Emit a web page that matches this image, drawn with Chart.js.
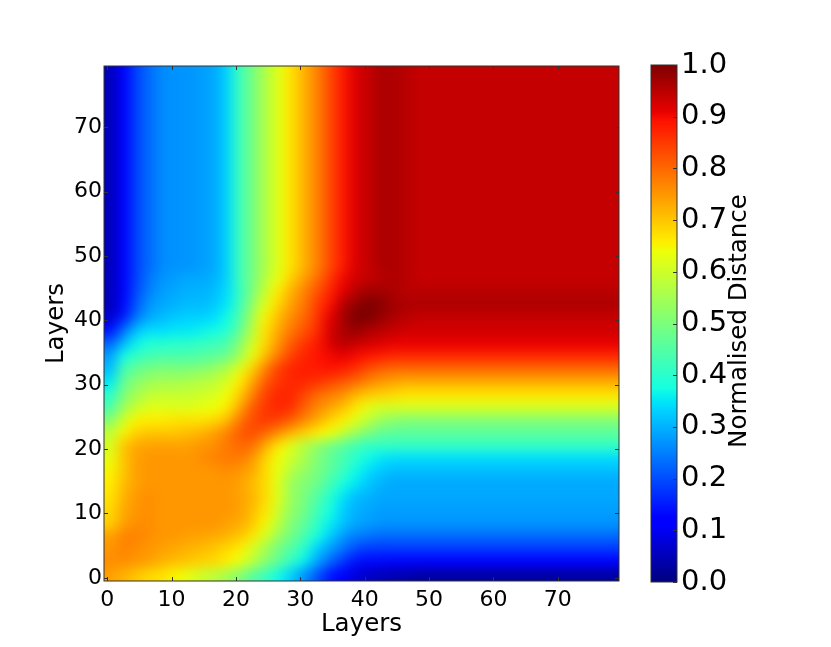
<!DOCTYPE html>
<html>
<head>
<meta charset="utf-8">
<title>Normalised Distance</title>
<script src="https://cdn.jsdelivr.net/npm/chart.js@4/dist/chart.umd.min.js"></script>
<style>
    html, body { margin: 0; padding: 0; background: #fff; }
    canvas { position: absolute; top: 0; }
    #heatmap { left: 0; }
    #colorbar { left: 640px; }
</style>
</head>
<body>
<canvas id="heatmap" width="640" height="647"></canvas>
<canvas id="colorbar" width="191" height="647"></canvas>
<script>
// Cell centres, each cell covers two layers
const layers = [0.5, 2.5, 4.5, 6.5, 8.5, 10.5, 12.5, 14.5, 16.5, 18.5, 20.5, 22.5, 24.5, 26.5, 28.5, 30.5, 32.5, 34.5, 36.5, 38.5,
    40.5, 42.5, 44.5, 46.5, 48.5, 50.5, 52.5, 54.5, 56.5, 58.5, 60.5, 62.5, 64.5, 66.5, 68.5, 70.5, 72.5, 74.5, 76.5, 78.5];

const layerTicks = [0, 10, 20, 30, 40, 50, 60, 70];
const colorbarTicks = [0, 0.1, 0.2, 0.3, 0.4, 0.5, 0.6, 0.7, 0.8, 0.9, 1];
const colorbarRange = [0, 1];
const axisTitle = 'Layers';
const colorbarTitle = 'Normalised Distance';

// Normalised distance in percent, bottom row first
const distance = [
    [74,72,70,68,67,65,63,60,58,55,51,46,42,37,33,27,21,15,11,8,6,5,4,4,3,3,3,3,3,3,3,3,3,3,3,3,3,3,3,3],
    [76,76,75,74,72,71,70,69,68,66,63,58,52,47,41,36,29,23,18,14,13,13,12,12,12,12,12,12,12,12,12,12,12,12,12,12,12,12,12,12],
    [75,77,76,75,74,73,72,71,70,68,66,61,55,49,45,40,33,28,24,20,18,18,18,18,18,18,18,18,18,18,18,18,18,18,18,18,18,18,18,18],
    [74,77,77,76,75,75,74,74,73,72,70,67,61,54,49,44,38,33,28,25,24,23,23,23,23,23,23,23,23,23,23,23,23,23,23,23,23,23,23,23],
    [69,74,76,76,75,75,75,75,75,74,73,70,65,58,51,47,41,36,32,29,28,27,27,27,27,27,27,27,27,27,27,27,27,27,27,27,27,27,27,27],
    [68,73,75,76,75,75,75,75,75,75,74,71,67,60,53,49,43,38,33,30,29,28,28,28,28,28,28,28,28,28,28,28,28,28,28,28,28,28,28,28],
    [67,72,75,76,75,75,75,75,75,75,74,72,68,62,54,50,45,40,35,31,30,29,29,29,29,29,29,29,29,29,29,29,29,29,29,29,29,29,29,29],
    [66,71,74,75,75,75,75,75,75,75,74,71,68,62,54,51,48,43,38,35,32,30,29,29,29,29,29,29,29,29,29,29,29,29,29,29,29,29,29,29],
    [65,70,74,75,75,75,75,75,75,76,75,73,68,63,57,53,50,46,42,37,34,32,31,31,31,31,31,31,31,31,31,31,31,31,31,31,31,31,31,31],
    [63,70,74,75,75,75,75,76,77,78,78,75,69,64,60,56,51,47,44,40,37,35,34,34,34,34,34,34,34,34,34,34,34,34,34,34,34,34,34,34],
    [61,70,73,74,74,74,74,75,76,78,80,79,73,67,62,57,53,49,46,43,41,41,41,41,41,41,41,41,41,41,41,41,41,41,41,41,41,41,41,41],
    [58,65,69,70,70,70,71,72,74,77,81,83,80,76,72,69,66,64,59,54,50,47,46,46,46,46,46,46,46,46,46,46,46,46,46,46,46,46,46,46],
    [51,60,65,66,66,67,67,67,68,71,78,83,85,84,81,77,73,69,66,62,58,54,52,51,51,51,51,51,51,51,51,51,51,51,51,51,51,51,51,51],
    [44,54,59,62,62,62,62,63,64,66,73,81,85,87,86,81,77,74,71,67,63,61,61,61,61,61,61,61,61,61,61,61,61,61,61,61,61,61,61,61],
    [40,50,55,58,59,59,59,60,61,64,69,77,84,87,87,84,80,78,76,72,70,69,68,67,67,67,67,67,67,67,67,67,67,67,67,67,67,67,67,67],
    [35,47,51,54,55,55,56,57,58,61,66,73,81,85,87,87,86,84,82,80,77,75,74,73,73,73,73,73,73,73,73,73,73,73,73,73,73,73,73,73],
    [31,43,47,49,50,50,50,51,53,56,62,69,77,84,87,88,88,89,88,86,83,81,80,80,80,80,80,80,80,80,80,80,80,80,80,80,80,80,80,80],
    [28,37,41,43,44,44,44,45,46,48,54,63,71,78,84,87,89,90,91,90,89,88,87,87,87,87,87,87,87,87,87,87,87,87,87,87,87,87,87,87],
    [22,30,36,39,39,40,40,41,42,44,51,60,68,75,81,85,88,92,95,94,93,92,91,91,91,91,91,91,91,91,91,91,91,91,91,91,91,91,91,91],
    [14,23,31,34,34,35,35,36,37,39,46,57,67,73,78,82,86,92,96,98,96,95,94,93,93,93,93,93,93,93,93,93,93,93,93,93,93,93,93,93],
    [7,15,24,29,31,32,33,33,34,37,44,55,65,71,76,80,85,91,96,100,100,98,96,95,94,94,94,94,94,94,94,94,94,94,94,94,94,94,94,94],
    [5,13,21,27,29,30,31,31,32,35,42,52,62,68,74,78,84,89,95,98,100,99,97,96,96,96,96,96,96,96,96,96,96,96,96,96,96,96,96,96],
    [5,12,20,25,28,29,30,30,31,34,41,50,59,66,72,77,82,87,91,95,97,97,96,95,95,95,95,95,95,95,95,95,95,95,95,95,95,95,95,95],
    [5,12,19,24,27,28,29,29,30,33,42,49,57,63,69,74,79,85,90,93,94,95,96,95,94,94,94,94,94,94,94,94,94,94,94,94,94,94,94,94],
    [5,12,19,23,26,27,27,28,29,33,42,49,56,62,67,72,77,83,88,92,94,96,96,95,94,94,94,94,94,94,94,94,94,94,94,94,94,94,94,94],
    [5,12,19,23,26,27,27,28,29,33,42,49,56,62,67,72,77,83,88,92,94,96,96,95,94,94,94,94,94,94,94,94,94,94,94,94,94,94,94,94],
    [5,12,19,23,26,27,27,28,29,33,42,49,56,62,67,72,77,83,88,92,94,96,96,95,94,94,94,94,94,94,94,94,94,94,94,94,94,94,94,94],
    [5,12,19,23,26,27,27,28,29,33,42,49,56,62,67,72,77,83,88,92,94,96,96,95,94,94,94,94,94,94,94,94,94,94,94,94,94,94,94,94],
    [5,12,19,23,26,27,27,28,29,33,42,49,56,62,67,72,77,83,88,92,94,96,96,95,94,94,94,94,94,94,94,94,94,94,94,94,94,94,94,94],
    [5,12,19,23,26,27,27,28,29,33,42,49,56,62,67,72,77,83,88,92,94,96,96,95,94,94,94,94,94,94,94,94,94,94,94,94,94,94,94,94],
    [5,12,19,23,26,27,27,28,29,33,42,49,56,62,67,72,77,83,88,92,94,96,96,95,94,94,94,94,94,94,94,94,94,94,94,94,94,94,94,94],
    [5,12,19,23,26,27,27,28,29,33,42,49,56,62,67,72,77,83,88,92,94,96,96,95,94,94,94,94,94,94,94,94,94,94,94,94,94,94,94,94],
    [5,12,19,23,26,27,27,28,29,33,42,49,56,62,67,72,77,83,88,92,94,96,96,95,94,94,94,94,94,94,94,94,94,94,94,94,94,94,94,94],
    [5,12,19,23,26,27,27,28,29,33,42,49,56,62,67,72,77,83,88,92,94,96,96,95,94,94,94,94,94,94,94,94,94,94,94,94,94,94,94,94],
    [5,12,19,23,26,27,27,28,29,33,42,49,56,62,67,72,77,83,88,92,94,96,96,95,94,94,94,94,94,94,94,94,94,94,94,94,94,94,94,94],
    [5,12,19,23,26,27,27,28,29,33,42,49,56,62,67,72,77,83,88,92,94,96,96,95,94,94,94,94,94,94,94,94,94,94,94,94,94,94,94,94],
    [5,12,19,23,26,27,27,28,29,33,42,49,56,62,67,72,77,83,88,92,94,96,96,95,94,94,94,94,94,94,94,94,94,94,94,94,94,94,94,94],
    [5,12,19,23,26,27,27,28,29,33,42,49,56,62,67,72,77,83,88,92,94,96,96,95,94,94,94,94,94,94,94,94,94,94,94,94,94,94,94,94],
    [5,12,19,23,26,27,27,28,29,33,42,49,56,62,67,72,77,83,88,92,94,96,96,95,94,94,94,94,94,94,94,94,94,94,94,94,94,94,94,94],
    [5,12,19,23,26,27,27,28,29,33,42,49,56,62,67,72,77,83,88,92,94,96,96,95,94,94,94,94,94,94,94,94,94,94,94,94,94,94,94,94]
];

// Jet colormap stops
const jetStops = [0, 0.11, 0.125, 0.34, 0.35, 0.375, 0.64, 0.65, 0.66, 0.89, 0.91, 1];
const jetColors = [
    [0, 0, 127], [0, 0, 255], [0, 0, 255], [0, 219, 255], [0, 230, 247], [21, 255, 226],
    [238, 255, 8], [247, 245, 0], [255, 236, 0], [255, 19, 0], [232, 0, 0], [127, 0, 0]
];

function jet(v) {
    for (let i = 1; i < jetStops.length; i++) {
        if (v <= jetStops[i]) {
            const t = (v - jetStops[i - 1]) / (jetStops[i] - jetStops[i - 1]);
            return jetColors[i].map((c, k) => Math.round(jetColors[i - 1][k] + (c - jetColors[i - 1][k]) * t));
        }
    }
    return jetColors[jetColors.length - 1];
}

const font = 'DejaVu Sans';
const frameColor = '#333';

// Small picture with one pixel per cell, the canvas smooths it when it is scaled up
const cellImage = document.createElement('canvas');
cellImage.width = layers.length;
cellImage.height = distance.length;
const cellCtx = cellImage.getContext('2d');
const pixels = cellCtx.createImageData(layers.length, distance.length);
distance.forEach((row, j) => {
    row.forEach((value, i) => {
        const rgb = jet(value / 100);
        const p = ((distance.length - 1 - j) * layers.length + i) * 4;
        pixels.data[p] = rgb[0];
        pixels.data[p + 1] = rgb[1];
        pixels.data[p + 2] = rgb[2];
        pixels.data[p + 3] = 255;
    });
});
cellCtx.putImageData(pixels, 0, 0);

const cells = [];
distance.forEach((row, j) => {
    row.forEach((value, i) => cells.push({ x: layers[i], y: layers[j], v: value }));
});

const smoothCells = {
    id: 'smoothCells',
    afterDatasetsDraw(chart) {
        const { ctx, scales, chartArea: a } = chart;
        const left = scales.x.getPixelForValue(scales.x.min);
        const right = scales.x.getPixelForValue(scales.x.max);
        const top = scales.y.getPixelForValue(scales.y.max);
        const bottom = scales.y.getPixelForValue(scales.y.min);
        ctx.save();
        ctx.imageSmoothingEnabled = true;
        ctx.imageSmoothingQuality = 'high';
        ctx.drawImage(cellImage, left, top, right - left, bottom - top);
        // soft second pass takes away the kinks between the cells
        ctx.beginPath();
        ctx.rect(a.left, a.top, a.right - a.left, a.bottom - a.top);
        ctx.clip();
        ctx.filter = 'blur(4px)';
        ctx.drawImage(cellImage, left, top, right - left, bottom - top);
        ctx.restore();
    }
};

// Matplotlib style frame with the ticks pointing inward
const heatmapFrame = {
    id: 'heatmapFrame',
    afterDraw(chart) {
        const { ctx, chartArea: a, scales } = chart;
        ctx.save();
        ctx.strokeStyle = frameColor;
        ctx.lineWidth = 1;
        ctx.strokeRect(a.left, a.top, a.right - a.left, a.bottom - a.top);
        ctx.beginPath();
        layerTicks.forEach(t => {
            const x = Math.round(scales.x.getPixelForValue(t)) + 0.5;
            const y = Math.round(scales.y.getPixelForValue(t)) + 0.5;
            ctx.moveTo(x, a.bottom); ctx.lineTo(x, a.bottom - 4);
            ctx.moveTo(x, a.top); ctx.lineTo(x, a.top + 4);
            ctx.moveTo(a.left, y); ctx.lineTo(a.left + 4, y);
            ctx.moveTo(a.right, y); ctx.lineTo(a.right - 4, y);
        });
        ctx.stroke();
        ctx.restore();
    }
};

const colorbarFrame = {
    id: 'colorbarFrame',
    afterDraw(chart) {
        const { ctx, chartArea: a, scales } = chart;
        ctx.save();
        ctx.strokeStyle = frameColor;
        ctx.lineWidth = 1;
        ctx.strokeRect(a.left, a.top, a.right - a.left, a.bottom - a.top);
        ctx.beginPath();
        colorbarTicks.forEach(t => {
            const y = Math.round(scales.y.getPixelForValue(t)) + 0.5;
            ctx.moveTo(a.right, y); ctx.lineTo(a.right - 4, y);
        });
        ctx.stroke();
        // Chart.js turns a right axis title the other way, so it is written here
        ctx.translate(100, 321);
        ctx.rotate(-Math.PI / 2);
        ctx.fillStyle = '#000';
        ctx.font = '24.5px "' + font + '"';
        ctx.textAlign = 'center';
        ctx.textBaseline = 'middle';
        ctx.fillText(colorbarTitle, 0, 0);
        ctx.restore();
    }
};

function layerAxis(width, height) {
    return {
        type: 'linear',
        min: -0.5,
        max: 79.5,
        grid: { display: false, drawTicks: false },
        border: { display: false },
        title: { display: true, text: axisTitle, color: '#000', padding: 0, font: { family: font, size: 24.5 } },
        ticks: { color: '#000', padding: width ? 2 : 6, autoSkip: false, maxRotation: 0, font: { family: font, size: 22 } },
        afterBuildTicks: scale => { scale.ticks = layerTicks.map(value => ({ value })); },
        afterFit: scale => {
            if (width) scale.width = width;
            if (height) scale.height = height;
        }
    };
}

new Chart(document.getElementById('heatmap').getContext('2d'), {
    type: 'scatter',
    data: {
        datasets: [{
            data: cells,
            pointStyle: 'rect',
            pointRadius: 9.2,
            borderWidth: 0,
            backgroundColor: ctx => {
                const c = jet((ctx.raw ? ctx.raw.v : 0) / 100);
                return 'rgb(' + c.join(',') + ')';
            }
        }]
    },
    options: {
        responsive: false,
        animation: false,
        events: [],
        layout: { padding: { left: 42, top: 66, right: 21, bottom: 8 } },
        scales: { x: layerAxis(0, 58), y: layerAxis(62, 0) },
        plugins: { legend: { display: false }, tooltip: { enabled: false } }
    },
    plugins: [smoothCells, heatmapFrame]
});

new Chart(document.getElementById('colorbar').getContext('2d'), {
    type: 'bar',
    data: {
        labels: [colorbarTitle],
        datasets: [{
            data: [colorbarRange],
            barPercentage: 1,
            categoryPercentage: 1,
            borderWidth: 0,
            borderSkipped: false,
            backgroundColor: ctx => {
                const { chartArea, scales } = ctx.chart;
                if (!chartArea) return '#000';
                const g = ctx.chart.ctx.createLinearGradient(0, scales.y.getPixelForValue(0), 0, scales.y.getPixelForValue(1));
                jetStops.forEach((s, i) => g.addColorStop(s, 'rgb(' + jetColors[i].join(',') + ')'));
                return g;
            }
        }]
    },
    options: {
        responsive: false,
        animation: false,
        events: [],
        layout: { padding: { left: 11, top: 65, right: 0, bottom: 65 } },
        scales: {
            x: { display: false },
            y: {
                position: 'right',
                min: 0,
                max: 1,
                grid: { display: false, drawTicks: false },
                border: { display: false },
                ticks: {
                    color: '#000',
                    padding: 4,
                    autoSkip: false,
                    font: { family: font, size: 29 },
                    callback: value => value.toFixed(1)
                },
                afterBuildTicks: scale => { scale.ticks = colorbarTicks.map(value => ({ value })); },
                afterFit: scale => { scale.width = 154; }
            }
        },
        plugins: { legend: { display: false }, tooltip: { enabled: false } }
    },
    plugins: [colorbarFrame]
});
</script>
</body>
</html>
